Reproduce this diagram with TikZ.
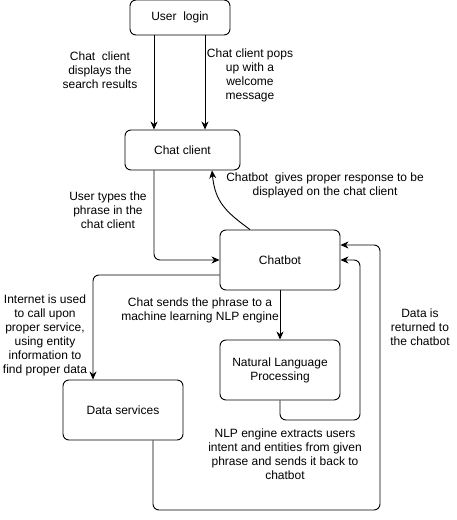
\documentclass[tikz,border=0pt]{standalone}
\usepackage{fontspec}
\setmainfont{Liberation Sans}
\usetikzlibrary{arrows.meta}
\begin{document}
\begin{tikzpicture}[x=1pt,y=-1pt,
  box/.style={draw,line width=0.9pt,rounded corners=6pt,align=center,inner sep=0pt,
    font=\fontsize{12}{14}\selectfont},
  lbl/.style={align=center,inner sep=0pt,font=\fontsize{12}{14}\selectfont},
  arr/.style={draw,line width=0.9pt,rounded corners=6pt,-{Stealth[length=8pt,width=7pt,inset=2.5pt]}}]
\useasboundingbox (0,0) rectangle (456,520);
\node[box,minimum width=100pt,minimum height=35pt] (login) at (180,17.5) {User\ \ login};
\node[box,minimum width=115pt,minimum height=40pt] (cc) at (182.5,150) {Chat client};
\node[box,minimum width=120pt,minimum height=60pt] (bot) at (280,260) {Chatbot};
\node[box,minimum width=120pt,minimum height=60pt] (nlp) at (280,370) {Natural Language\\Processing};
\node[box,minimum width=120pt,minimum height=60pt] (data) at (123,410) {Data services};
\coordinate (x1) at (154,0);
\coordinate (x2) at (205,0);
\coordinate (x3) at (93,0);
\coordinate (x5) at (153,0);
\coordinate (r1) at (360,420);
\coordinate (r2) at (380,510);
\coordinate (cs) at (250,0);
\coordinate (ce) at (212,0);
% connectors
\draw[arr] (login.south -| x1) -- (cc.north -| x1);
\draw[arr] (login.south -| x2) -- (cc.north -| x2);
\draw[arr] (cc.south -| x1) |- (bot.west);
\draw[arr,rounded corners=0pt] (bot.north -| cs) .. controls (226,212) and (215,202) .. (cc.south -| ce);
\draw[arr] ([yshift=-15pt]bot.west) -| (data.north -| x3);
\draw[arr] (bot.south) -- (nlp.north);
\draw[arr] (nlp.south) |- (r1) |- (bot.east);
\draw[arr] (data.south -| x5) |- (r2) |- ([yshift=15pt]bot.east);
% labels
\node[lbl] (l1) at (100,70) {Chat\ \ client\\displays the\\search results};
\node[lbl] (l2) at (250,75) {Chat client pops\\up with a\\welcome\\message};
\node[lbl] (l3) at (108,210) {User types the\\phrase in the\\chat client};
\node[lbl] (l4) at (325,185) {Chatbot\ \ gives proper response to be\\displayed on the chat client};
\node[lbl] (l5) at (45,335) {Internet is used\\to call upon\\proper service,\\using entity\\information to\\find proper data};
\node[lbl] (l6) at (200,310) {Chat sends the phrase to a\\machine learning NLP engine};
\node[lbl] (l7) at (420,327) {Data is\\returned to\\the chatbot};
\node[lbl] (l8) at (285,454) {NLP engine extracts users\\intent and entities from given\\phrase and sends it back to\\chatbot};
\end{tikzpicture}
\end{document}
